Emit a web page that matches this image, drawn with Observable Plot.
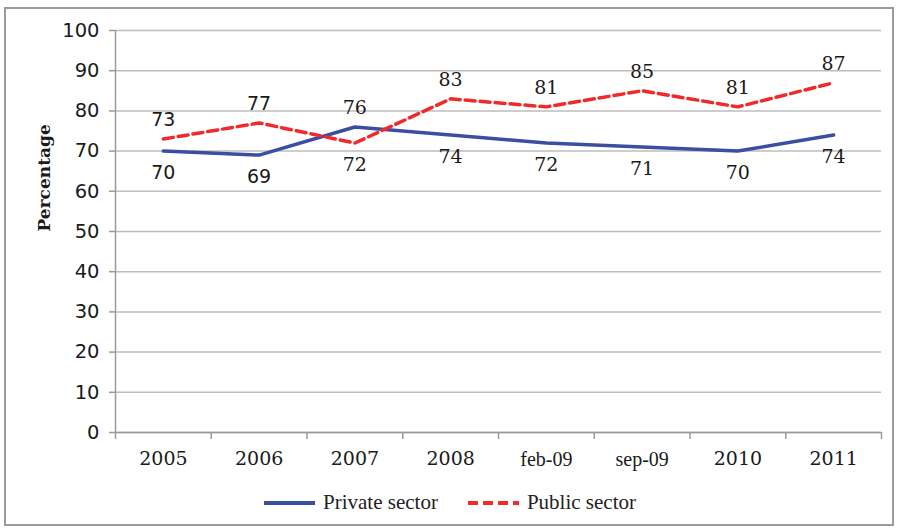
<!DOCTYPE html>
<html>
<head>
<meta charset="utf-8">
<script src="https://cdn.jsdelivr.net/npm/d3@7"></script>
<script src="https://cdn.jsdelivr.net/npm/@observablehq/plot@0.6"></script>
<style>
  html, body { margin: 0; padding: 0; background: #fff; }
  #frame { position: absolute; left: 4px; top: 7px; width: 886px; height: 515px; border: 2px solid #9a9a9a; background: #fff; }
  #legend { position: absolute; left: 0; top: 481px; width: 886px; display: flex; justify-content: center; align-items: center; font-family: "Liberation Serif", serif; font-size: 21px; color: #222; }
  .item { display: flex; align-items: center; margin: 0 14px; }
  .item svg { margin-right: 6px; }
</style>
</head>
<body>
<div id="frame">
  <div id="chart"></div>
  <div id="legend"></div>
</div>
<script>
const categories = ["2005", "2006", "2007", "2008", "feb-09", "sep-09", "2010", "2011"];
const privateSector = [70, 69, 76, 74, 72, 71, 70, 74];
const publicSector = [73, 77, 72, 83, 81, 85, 81, 87];
const yTicks = [0, 10, 20, 30, 40, 50, 60, 70, 80, 90, 100];
const seriesNames = ["Private sector", "Public sector"];

const blue = "#3a4ea2";
const red = "#f02a2a";

const idx = categories.map((_, i) => i);
const boundaries = [...idx.map(i => i - 0.5), categories.length - 0.5];
const yearIdx = idx.filter(i => /^\d{4}$/.test(categories[i]));
const monthIdx = idx.filter(i => !/^\d{4}$/.test(categories[i]));

const rows = [];
idx.forEach(i => {
  rows.push({i, cat: categories[i], series: seriesNames[0], value: privateSector[i], other: publicSector[i]});
  rows.push({i, cat: categories[i], series: seriesNames[1], value: publicSector[i], other: privateSector[i]});
});
const above = rows.filter(d => d.value > d.other);
const below = rows.filter(d => d.value <= d.other);

const labelMarks = (data, dy) => [
  Plot.text(data.filter(d => d.i < 2), {x: "i", y: "value", text: d => String(d.value), dy, fontFamily: "DejaVu Sans", fontSize: 19, fill: "#1a1a1a"}),
  Plot.text(data.filter(d => d.i >= 2), {x: "i", y: "value", text: d => String(d.value), dy, fontFamily: "DejaVu Serif", fontSize: 19, fill: "#1a1a1a"})
];

const chart = Plot.plot({
  width: 886,
  height: 470,
  marginLeft: 109,
  marginRight: 11,
  marginTop: 21,
  marginBottom: 47,
  style: {background: "#fff", color: "#222", overflow: "visible"},
  x: {type: "linear", domain: [-0.5, categories.length - 0.5], axis: null},
  y: {domain: [0, 100], axis: null},
  marks: [
    Plot.gridY(yTicks, {stroke: "#bdbdbd", strokeOpacity: 1, strokeWidth: 1.5}),
    Plot.ruleY([0], {stroke: "#9a9a9a", strokeWidth: 1.5}),
    Plot.ruleX([-0.5], {y1: 0, y2: 100, stroke: "#9a9a9a", strokeWidth: 1.5}),
    Plot.axisY({ticks: yTicks, tickSize: 6, tickPadding: 10, stroke: "#9a9a9a", strokeWidth: 1.5, label: null, fontFamily: "DejaVu Sans", fontSize: 19.5, fill: "#1a1a1a"}),
    Plot.axisX({ticks: boundaries, tickSize: 7, tickFormat: () => "", stroke: "#9a9a9a", strokeWidth: 1.5, label: null}),
    Plot.axisX({ticks: yearIdx, tickSize: 0, tickPadding: 19, tickFormat: i => categories[i], label: null, fontFamily: "DejaVu Serif", fontSize: 19, fill: "#1a1a1a"}),
    Plot.axisX({ticks: monthIdx, tickSize: 0, tickPadding: 19, tickFormat: i => categories[i], label: null, fontFamily: "Liberation Serif", fontSize: 20, fill: "#1a1a1a"}),
    Plot.text(["Percentage"], {frameAnchor: "left", dx: -71, rotate: -90, fontFamily: "DejaVu Serif", fontWeight: "bold", fontSize: 17, fill: "#1a1a1a"}),
    Plot.line(rows.filter(d => d.series === seriesNames[0]), {x: "i", y: "value", stroke: blue, strokeWidth: 3.5}),
    Plot.line(rows.filter(d => d.series === seriesNames[1]), {x: "i", y: "value", stroke: red, strokeWidth: 3.5, strokeDasharray: "10,5"}),
    ...labelMarks(above, -19),
    ...labelMarks(below, 22)
  ]
});
document.getElementById("chart").appendChild(chart);

const legend = document.getElementById("legend");
seriesNames.forEach((name, k) => {
  const item = document.createElement("div");
  item.className = "item";
  const dash = k === 1 ? ' stroke-dasharray="10,5"' : '';
  item.innerHTML = `<svg width="55" height="10"><line x1="2" y1="5" x2="53" y2="5" stroke="${k === 0 ? blue : red}" stroke-width="4"${dash}></line></svg><span>${name}</span>`;
  legend.appendChild(item);
});
</script>
</body>
</html>
